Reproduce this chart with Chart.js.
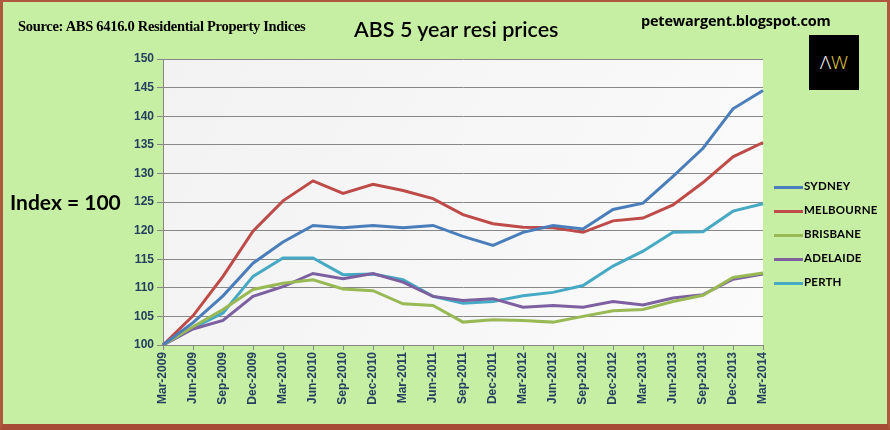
<!DOCTYPE html>
<html>
<head>
<meta charset="utf-8">
<script src="https://cdn.jsdelivr.net/npm/chart.js@4"></script>
<style>
    body { margin: 0; background: #fff; }
    #wrap {
        position: relative;
        width: 890px;
        height: 430px;
        background: #c6efa4;
        box-sizing: border-box;
        overflow: hidden;
    }
    #frame {
        position: absolute;
        left: 0; top: 0; width: 890px; height: 430px;
        box-sizing: border-box;
        border-left: 3px solid #b0583d;
        border-top: 2px solid #b0583d;
        border-right: 3px solid #b0583d;
        border-bottom: 6px solid #a64b35;
        pointer-events: none;
    }
    canvas { position: absolute; left: 0; top: 0; }
    .txt { position: absolute; white-space: nowrap; color: #000; }
    #source { left: 18px; top: 18px; font: bold 14.5px "Liberation Serif", serif; letter-spacing: -0.3px; }
    #title { left: 354px; top: 16px; font: 21.5px Lato, sans-serif; font-weight: 600; }
    #blog { left: 641px; top: 11px; font: bold 14.5px "Open Sans", sans-serif; letter-spacing: -0.2px; }
    #index { left: 10px; top: 189px; font: bold 21px Lato, sans-serif; }
    #logo {
        position: absolute; left: 809px; top: 35px; width: 50px; height: 55px;
        background: #000; font: 300 19px "Open Sans", sans-serif; text-align: center; line-height: 55px;
    }
    #logo .a { color: #fff; }
    #logo .w { color: #e6d23c; }
    #legend { position: absolute; left: 774px; top: 179px; }
    .leg { position: relative; height: 24px; font: bold 11.5px Lato, sans-serif; color: #000; letter-spacing: 0.2px; }
    .leg i { position: absolute; left: 0; top: 7px; width: 29px; height: 3px; }
    .leg span { position: absolute; left: 30px; top: 0; }
</style>
</head>
<body>
<div id="wrap">
    <canvas id="chart" width="890" height="430"></canvas>
    <div class="txt" id="source">Source: ABS 6416.0 Residential Property Indices</div>
    <div class="txt" id="title">ABS 5 year resi prices</div>
    <div class="txt" id="blog">petewargent.blogspot.com</div>
    <div class="txt" id="index">Index = 100</div>
    <div id="logo"><span class="a">&#923;</span><span class="w">W</span></div>
    <div id="legend"></div>
    <div id="frame"></div>
</div>
<script>
// Quarterly labels, Mar-2009 = 100
const quarters = ['Mar-2009', 'Jun-2009', 'Sep-2009', 'Dec-2009', 'Mar-2010', 'Jun-2010', 'Sep-2010',
    'Dec-2010', 'Mar-2011', 'Jun-2011', 'Sep-2011', 'Dec-2011', 'Mar-2012', 'Jun-2012', 'Sep-2012',
    'Dec-2012', 'Mar-2013', 'Jun-2013', 'Sep-2013', 'Dec-2013', 'Mar-2014'];

const sydney = [100, 103.9, 108.6, 114.3, 118.0, 120.9, 120.5, 120.9, 120.5, 120.9, 119.0,
    117.4, 119.7, 120.9, 120.3, 123.7, 124.8, 129.5, 134.4, 141.3, 144.5];
const melbourne = [100, 105.1, 112.0, 119.9, 125.2, 128.7, 126.5, 128.1, 127.0, 125.6, 122.8,
    121.2, 120.6, 120.5, 119.7, 121.7, 122.2, 124.5, 128.4, 132.9, 135.4];
const brisbane = [100, 103.2, 106.2, 109.7, 110.8, 111.4, 109.8, 109.5, 107.2, 106.9, 104.0,
    104.4, 104.3, 104.0, 105.0, 106.0, 106.2, 107.6, 108.7, 111.8, 112.6];
const adelaide = [100, 102.8, 104.3, 108.5, 110.2, 112.5, 111.6, 112.5, 111.0, 108.5, 107.8,
    108.1, 106.6, 106.9, 106.6, 107.6, 107.0, 108.2, 108.8, 111.5, 112.4];
const perth = [100, 103.0, 105.6, 112.0, 115.2, 115.2, 112.3, 112.4, 111.4, 108.5, 107.3,
    107.6, 108.6, 109.2, 110.4, 113.8, 116.4, 119.7, 119.8, 123.4, 124.7];

const yTicks = [100, 105, 110, 115, 120, 125, 130, 135, 140, 145, 150];

const SERIES = [
    { name: 'SYDNEY', data: sydney, color: '#4a7ebb' },
    { name: 'MELBOURNE', data: melbourne, color: '#be4b48' },
    { name: 'BRISBANE', data: brisbane, color: '#98b954' },
    { name: 'ADELAIDE', data: adelaide, color: '#7d60a0' },
    { name: 'PERTH', data: perth, color: '#46aac5' }
];

const TICK_COLOR = '#243f5e';
const GRID_COLOR = '#878787';

// plot area background
const plotBg = {
    id: 'plotBg',
    beforeDraw(chart) {
        const { ctx, chartArea: a } = chart;
        ctx.save();
        const g = ctx.createLinearGradient(a.left, a.top, a.right, a.bottom);
        g.addColorStop(0, '#f2f2f2');
        g.addColorStop(1, '#fbfbfb');
        ctx.fillStyle = g;
        ctx.fillRect(a.left, a.top, a.right - a.left, a.bottom - a.top);
        ctx.restore();
    }
};

const chart = new Chart(document.getElementById('chart'), {
    type: 'line',
    data: {
        labels: quarters,
        datasets: SERIES.map(s => ({
            label: s.name,
            data: s.data,
            borderColor: s.color,
            backgroundColor: s.color,
            borderWidth: 3,
            pointRadius: 0,
            tension: 0
        }))
    },
    options: {
        responsive: false,
        animation: false,
        layout: { padding: { left: 0, right: 127, top: 59, bottom: 0 } },
        plugins: {
            legend: { display: false },
            tooltip: { enabled: false }
        },
        scales: {
            x: {
                offset: false,
                grid: { drawOnChartArea: false, color: GRID_COLOR, tickLength: 5 },
                border: { color: GRID_COLOR, width: 1 },
                ticks: {
                    color: TICK_COLOR,
                    font: { family: 'Liberation Sans', weight: 'bold', size: 12 },
                    maxRotation: 90,
                    minRotation: 90,
                    autoSkip: false,
                    padding: 2
                },
                afterFit: s => { s.height = 85; }
            },
            y: {
                min: 100,
                max: 150,
                afterBuildTicks: s => { s.ticks = yTicks.map(v => ({ value: v })); },
                grid: { color: GRID_COLOR, tickLength: 6 },
                border: { color: GRID_COLOR, width: 1 },
                ticks: {
                    color: TICK_COLOR,
                    font: { family: 'Liberation Sans', weight: 'bold', size: 12 },
                    padding: 3
                },
                afterFit: s => { s.width = 163; }
            }
        }
    },
    plugins: [plotBg]
});

// legend built from the chart's datasets
const legend = document.getElementById('legend');
chart.data.datasets.forEach(ds => {
    const row = document.createElement('div');
    row.className = 'leg';
    const sw = document.createElement('i');
    sw.style.background = ds.borderColor;
    const label = document.createElement('span');
    label.textContent = ds.label;
    row.appendChild(sw);
    row.appendChild(label);
    legend.appendChild(row);
});
</script>
</body>
</html>
